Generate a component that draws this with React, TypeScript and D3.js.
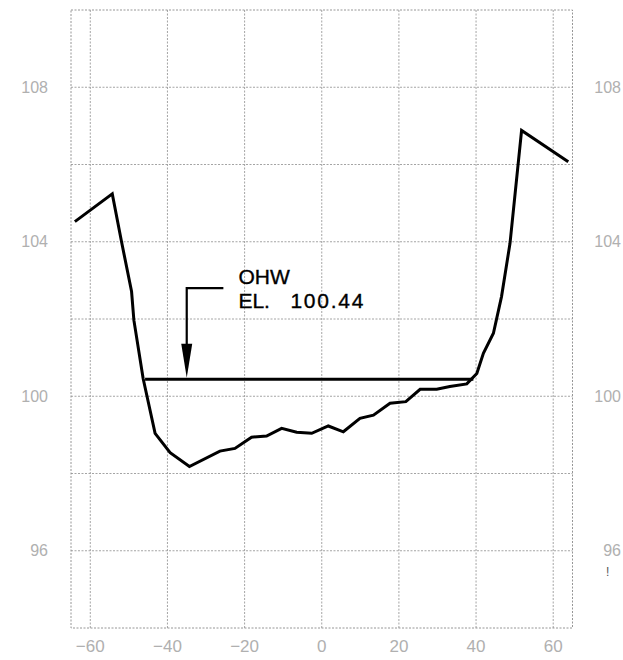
import React from "react";
import * as d3 from "d3";

// Cross-section profile (station vs elevation)
const profileX = [-64, -54.3, -51.9, -49.3, -48.7, -46.3, -43.2, -39.3, -34.3, -26.4, -22.5, -18.2, -14.3, -10.4, -6.5, -2.6, 1.7, 5.6, 9.9, 13.4, 17.7, 21.8, 25.5, 29.8, 33.2, 37.6, 40.2, 41.9, 44.5, 46.6, 48.8, 51.8, 63.9];
const profileY = [104.52, 105.24, 104.0, 102.71, 101.97, 100.46, 99.04, 98.54, 98.18, 98.58, 98.65, 98.94, 98.97, 99.17, 99.07, 99.04, 99.23, 99.08, 99.43, 99.51, 99.82, 99.86, 100.18, 100.18, 100.25, 100.32, 100.59, 101.11, 101.63, 102.58, 103.96, 106.88, 106.07];

const xTicks = [-60, -40, -20, 0, 20, 40, 60];
const yGrid = [96, 98, 100, 102, 104, 106, 108];
const yLabels = [96, 100, 104, 108];

const ohwLevel = 100.44;
const ohwStart = -45.8;
const ohwEnd = 39.3;
const arrowStation = -35;
const leaderEnd = -25.5;
const leaderElev = 102.8;
const annotTitle = "OHW";
const annotPrefix = "EL.";
const annotValue = "100.44";

const W = 623;
const H = 660;

export default function App() {
  const x = d3.scaleLinear().domain([-65, 65]).range([71, 572.5]);
  const y = d3.scaleLinear().domain([94, 110]).range([628, 10]);

  const line = d3
    .line<number>()
    .x((_, i) => x(profileX[i]))
    .y((d) => y(d));

  const gridStyle = {
    stroke: "#9a9a9a",
    strokeWidth: 0.9,
    strokeDasharray: "2 1.5",
    fill: "none",
  } as const;

  const labelColor = "#b0b0b0";
  const fontFamily = "'Liberation Sans', Arial, sans-serif";

  const ax = x(arrowStation);
  const ly = y(leaderElev);
  const ohwY = y(ohwLevel);
  const tipY = ohwY - 1.5;
  const headLen = 34;
  const headHalf = 5.5;
  const textX = x(leaderEnd) + 15;

  return (
    <svg
      width={W}
      height={H}
      style={{ position: "absolute", left: 0, top: 0, background: "#fff" }}
    >
      {/* grid */}
      {xTicks.map((t) => (
        <line key={"vx" + t} x1={x(t)} x2={x(t)} y1={y(110)} y2={y(94)} {...gridStyle} />
      ))}
      {yGrid.map((t) => (
        <line key={"hy" + t} x1={x(-65)} x2={x(65)} y1={y(t)} y2={y(t)} {...gridStyle} />
      ))}
      <rect
        x={x(-65)}
        y={y(110)}
        width={x(65) - x(-65)}
        height={y(94) - y(110)}
        {...gridStyle}
        stroke="#8a8a8a"
      />

      {/* y labels left and right */}
      {yLabels.map((t) => (
        <text
          key={"yl" + t}
          x={48}
          y={y(t)}
          dy="0.35em"
          textAnchor="end"
          fontSize={16}
          fontFamily={fontFamily}
          fill={labelColor}
        >
          {t}
        </text>
      ))}
      {yLabels.map((t) => (
        <text
          key={"yr" + t}
          x={621}
          y={y(t)}
          dy="0.35em"
          textAnchor="end"
          fontSize={16}
          fontFamily={fontFamily}
          fill={labelColor}
        >
          {t}
        </text>
      ))}
      <text x={606} y={576} fontSize={12} fontFamily={fontFamily} fill="#555">
        !
      </text>

      {/* x labels */}
      {xTicks.map((t) => (
        <text
          key={"xl" + t}
          x={x(t)}
          y={652}
          textAnchor="middle"
          fontSize={17}
          fontFamily={fontFamily}
          fill={labelColor}
        >
          {t < 0 ? "\u2212" + Math.abs(t) : String(t)}
        </text>
      ))}

      {/* OHW line */}
      <line
        x1={x(ohwStart)}
        x2={x(ohwEnd)}
        y1={ohwY}
        y2={ohwY}
        stroke="#000"
        strokeWidth={3}
      />

      {/* profile */}
      <path
        d={line(profileY) ?? ""}
        fill="none"
        stroke="#000"
        strokeWidth={3}
        strokeLinejoin="miter"
      />

      {/* leader + arrow */}
      <polyline
        points={`${x(leaderEnd)},${ly} ${ax},${ly} ${ax},${tipY - headLen + 2}`}
        fill="none"
        stroke="#000"
        strokeWidth={2.2}
      />
      <polygon
        points={`${ax - headHalf},${tipY - headLen} ${ax + headHalf},${tipY - headLen} ${ax},${tipY}`}
        fill="#000"
      />

      {/* annotation text */}
      <g fontFamily={fontFamily} fontSize={21} fill="#000" stroke="#000" strokeWidth={0.35}>
        <text x={textX} y={ly - 4}>
          {annotTitle}
        </text>
        <text x={textX} y={ly + 20}>
          {annotPrefix}
        </text>
        <text x={textX + 52} y={ly + 20} textLength={73} lengthAdjust="spacing">
          {annotValue}
        </text>
      </g>
    </svg>
  );
}
